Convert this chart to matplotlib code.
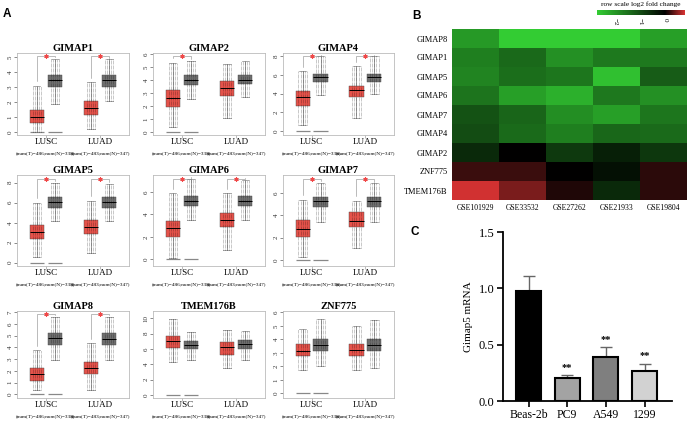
import matplotlib
matplotlib.use("Agg")
import matplotlib.pyplot as plt
import numpy as np
from matplotlib.colors import LinearSegmentedColormap

# ---- panel A: GEPIA box plots (whisker low, q1, median, q3, whisker high) ----
genes = ["GIMAP1", "GIMAP2", "GIMAP4", "GIMAP5", "GIMAP6", "GIMAP7", "GIMAP8", "TMEM176B", "ZNF775"]
lusc_t = [[0.0, 0.62, 1.02, 1.47, 3.1], [0.34, 1.91, 2.63, 3.25, 5.36], [0.65, 2.69, 3.62, 4.33, 6.38],
          [0.6, 2.34, 3.1, 3.77, 6.0], [0.1, 1.97, 2.77, 3.42, 5.88], [0.3, 2.07, 2.8, 3.55, 5.4],
          [0.37, 1.16, 1.71, 2.22, 3.78], [4.34, 6.09, 7.04, 7.7, 9.87], [1.75, 2.8, 3.17, 3.62, 4.75]]
lusc_n = [[1.9, 2.98, 3.47, 3.8, 4.9], [2.56, 3.65, 4.03, 4.42, 5.49], [3.87, 5.24, 5.74, 6.14, 8.0],
          [4.17, 5.44, 6.04, 6.54, 7.94], [3.51, 4.78, 5.23, 5.64, 7.13], [3.36, 4.78, 5.23, 5.64, 6.9],
          [2.93, 4.21, 4.78, 5.21, 6.63], [4.57, 5.96, 6.52, 7.08, 8.25], [2.0, 3.12, 3.55, 4.0, 5.5]]
luad_t = [[0.2, 1.13, 1.62, 2.07, 3.35], [1.03, 2.76, 3.4, 3.96, 5.24], [1.37, 3.63, 4.34, 4.84, 6.92],
          [0.94, 2.84, 3.54, 4.27, 6.17], [0.84, 2.86, 3.51, 4.16, 5.88], [1.03, 2.91, 3.51, 4.3, 5.29],
          [0.37, 1.73, 2.27, 2.78, 4.35], [3.48, 5.22, 6.22, 6.95, 8.48], [1.72, 2.8, 3.2, 3.62, 5.0]]
luad_n = [[2.1, 3.02, 3.47, 3.8, 4.85], [2.73, 3.7, 4.03, 4.42, 5.49], [3.98, 5.2, 5.74, 6.14, 8.0],
          [4.17, 5.44, 6.04, 6.54, 7.84], [3.51, 4.78, 5.23, 5.64, 7.1], [3.36, 4.78, 5.23, 5.64, 6.85],
          [2.93, 4.21, 4.75, 5.24, 6.63], [4.57, 6.0, 6.61, 7.17, 8.38], [1.9, 3.12, 3.57, 4.0, 5.4]]
sig_lusc = [1, 1, 1, 1, 1, 1, 1, 0, 0]
sig_luad = [1, 0, 1, 1, 1, 1, 1, 0, 0]
y_max = [5, 6, 8, 8, 6, 6, 7, 10, 6]
y_step = [1, 1, 2, 2, 2, 2, 1, 2, 1]
cancers = ["LUSC", "LUAD"]
counts = ["(num(T)=486;num(N)=338)", "(num(T)=483;num(N)=347)"]

# ---- panel B: heatmap ----
heat_rows = ["GIMAP8", "GIMAP1", "GIMAP5", "GIMAP6", "GIMAP7", "GIMAP4", "GIMAP2", "ZNF775", "TMEM176B"]
heat_cols = ["GSE101929", "GSE33532", "GSE27262", "GSE21933", "GSE19804"]
heat_vals = np.array([
    [-2.07, -2.75, -2.75, -2.75, -2.15],
    [-1.71, -1.43, -1.94, -1.64, -1.64],
    [-1.79, -1.48, -1.59, -2.59, -1.24],
    [-1.56, -2.15, -2.37, -1.62, -1.94],
    [-1.10, -1.37, -1.91, -2.15, -1.59],
    [-1.04, -1.44, -1.71, -1.40, -1.44],
    [-0.57, 0.00, -0.78, -0.43, -0.74],
    [0.21, 0.21, 0.00, -0.22, 0.15],
    [0.77, 0.45, 0.11, -0.57, 0.15],
])

# ---- panel C: qPCR ----
cells = ["Beas-2b", "PC9", "A549", "1299"]
mrna = [0.98, 0.20, 0.39, 0.27]
mrna_err = [0.13, 0.03, 0.09, 0.06]
stars = ["", "**", "**", "**"]

W, H = 687, 424
fig = plt.figure(figsize=(W / 100, H / 100), dpi=100)
SERIF = "Liberation Serif"
SANS = "Liberation Sans"


def px_axes(x0, y0, x1, y1):
    return fig.add_axes([x0 / W, 1 - y1 / H, (x1 - x0) / W, (y1 - y0) / H])


col_x = [(17, 129), (153, 265), (283, 394)]
row_y = [(53, 135), (175, 266), (311, 398)]
ylims = [(-0.2, 5.27), (-0.25, 6.1), (-0.43, 8.35), (-0.33, 8.77), (-0.58, 7.5),
         (-0.54, 7.6), (-0.31, 7.1), (-0.39, 10.95), (-0.35, 6.1)]
t_col, n_col = "#e4524a", "#6e6e6e"

for i, g in enumerate(genes):
    r, c = divmod(i, 3)
    ax = px_axes(col_x[c][0], row_y[r][0], col_x[c][1], row_y[r][1])
    stats = []
    for s in [lusc_t[i], lusc_n[i], luad_t[i], luad_n[i]]:
        stats.append(dict(whislo=s[0], q1=s[1], med=s[2], q3=s[3], whishi=s[4], fliers=[]))
    pos = [1, 2, 4, 5]
    bp = ax.bxp(stats, positions=pos, widths=0.8, patch_artist=True, showfliers=False,
                medianprops=dict(color="black", lw=0.7),
                whiskerprops=dict(color="#666666", lw=0.4),
                capprops=dict(color="#666666", lw=0.4),
                boxprops=dict(lw=0.3))
    for k, b in enumerate(bp["boxes"]):
        b.set_facecolor(t_col if k % 2 == 0 else n_col)
        b.set_edgecolor("#444444")
    # jittered sample cloud, drawn as dotted strips
    for k, s in enumerate(stats):
        for dx in (-0.24, -0.12, 0.0, 0.12, 0.24):
            ax.vlines(pos[k] + dx, s["whislo"], s["whishi"], color="black", lw=0.6,
                      linestyles=(0, (0.6, 0.9)), alpha=0.5, zorder=4)
        if k < 2:
            ax.hlines(0, pos[k] - 0.4, pos[k] + 0.4, color="#888888", lw=0.9, zorder=3)
    lo, hi = ylims[i]
    ax.set_ylim(lo, hi)
    ax.set_xlim(-0.1, 6.1)
    yb = hi - 0.04 * (hi - lo)
    for j, sig in enumerate([sig_lusc[i], sig_luad[i]]):
        if not sig:
            continue
        xt, xn = pos[2 * j], pos[2 * j + 1]
        st_t, st_n = stats[2 * j], stats[2 * j + 1]
        ax.plot([xt, xt, xn, xn], [st_t["whishi"] + 0.05 * (hi - lo), yb, yb, st_n["whishi"] + 0.02 * (hi - lo)],
                color="#888888", lw=0.4, zorder=5)
        ax.plot((xt + xn) / 2, yb, marker=(6, 2, 0), ms=3, color="#f04848", mew=0.8, zorder=6)
    ax.set_yticks(np.arange(0, y_max[i] + 0.01, y_step[i]))
    ax.tick_params(axis="y", labelsize=5, length=2, width=0.4, pad=1, colors="#333333", labelrotation=90)
    for lab in ax.get_yticklabels():
        lab.set_fontfamily(SERIF)
        lab.set_va("center")
    ax.set_xticks([1.5, 4.5])
    ax.set_xticklabels(["", ""])
    ax.tick_params(axis="x", length=2, width=0.4, colors="#888888")
    for sp in ax.spines.values():
        sp.set_color("#bbbbbb")
        sp.set_linewidth(0.6)
    for j in range(2):
        ax.annotate(cancers[j], xy=(pos[2 * j] + 0.5, 0), xycoords=("data", "axes fraction"),
                    xytext=(0, -5.3), textcoords="offset points", ha="center", va="center",
                    fontsize=6.5, family=SERIF)
        ax.annotate(counts[j], xy=(pos[2 * j] + 0.5, 0), xycoords=("data", "axes fraction"),
                    xytext=(0, -13), textcoords="offset points", ha="center", va="center",
                    fontsize=3.8, family=SERIF)
    ax.set_title(g, fontsize=7.5, fontweight="bold", family=SERIF, pad=1.5)

# ---- panel B ----
cmap = LinearSegmentedColormap.from_list(
    "gbr", [(0.0, (0.2, 0.8, 0.2)), (2.75 / 3.55, (0, 0, 0)), (1.0, (0.85, 0.2, 0.2))])
axh = px_axes(452, 29, 687, 200)
im = axh.imshow(heat_vals, cmap=cmap, vmin=-2.75, vmax=0.8, aspect="auto", interpolation="nearest")
axh.set_yticks(range(len(heat_rows)))
axh.set_yticklabels(heat_rows, fontsize=6, family=SERIF)
axh.set_xticks(range(len(heat_cols)))
axh.set_xticklabels(heat_cols, fontsize=5.5, family=SERIF)
axh.tick_params(length=0, pad=3)
for sp in axh.spines.values():
    sp.set_visible(False)

cax = px_axes(597, 10, 685, 15)
cb = fig.colorbar(im, cax=cax, orientation="horizontal")
cb.outline.set_visible(False)
cb.set_ticks([-2, -1, 0])
cax.tick_params(length=0, pad=2, labelsize=5)
for lab in cax.get_xticklabels():
    lab.set_rotation(-90)
    lab.set_fontfamily(SERIF)
fig.text(641 / W, 1 - 4 / H, "row scale log2 fold change", fontsize=5.3, family=SERIF,
         ha="center", va="center")

# ---- panel C ----
axc = px_axes(503, 232, 672, 401)
x = np.arange(len(cells))
bar_cols = ["black", "#a3a3a3", "#7f7f7f", "#d2d2d2"]
axc.bar(x, mrna, width=0.65, color=bar_cols, edgecolor="black", lw=1.5, zorder=2)
axc.errorbar(x, mrna, yerr=[np.zeros(len(mrna)), mrna_err], fmt="none", ecolor="#666666",
             elinewidth=1, capsize=4.5, capthick=1, zorder=1)
for xi, v, e, s in zip(x, mrna, mrna_err, stars):
    if s:
        axc.text(xi, v + e + 0.07, s, ha="center", va="center", fontsize=7.5,
                 fontweight="bold", family=SERIF)
axc.set_xlim(-0.66, 3.71)
axc.set_ylim(0, 1.5)
axc.set_yticks([0, 0.5, 1.0, 1.5])
axc.set_yticklabels(["0.0", "0.5", "1.0", "1.5"], fontsize=9, family=SERIF)
axc.set_xticks(x)
axc.set_xticklabels(cells, fontsize=8.5, family=SERIF)
axc.tick_params(length=4, width=1.2, pad=2)
for sp in ["top", "right"]:
    axc.spines[sp].set_visible(False)
for sp in ["left", "bottom"]:
    axc.spines[sp].set_linewidth(1.3)
axc.set_ylabel("Gimap5 mRNA", fontsize=8, family=SERIF, labelpad=4)

# panel letters
for lab, (px, py) in zip("ABC", [(3, 14), (412, 16), (411, 232)]):
    fig.text(px / W, 1 - py / H, lab, fontsize=8.5, fontweight="bold", family=SANS,
             ha="left", va="center")

fig.savefig("out.png", dpi=100)
